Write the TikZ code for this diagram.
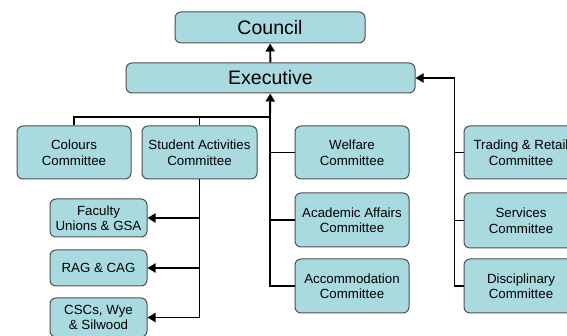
\documentclass[tikz,border=0pt]{standalone}
\usepackage{fontspec}
\setmainfont{Liberation Sans}
\usetikzlibrary{arrows.meta}

\definecolor{boxfill}{RGB}{168,218,224}
\definecolor{boxline}{RGB}{80,80,80}

\tikzset{
  unit/.style={draw=boxline,fill=boxfill,rounded corners=6pt,line width=1pt,
    align=center,inner sep=0pt,font=\fontsize{13.3}{15.5}\selectfont},
  topunit/.style={unit,font=\fontsize{19.5}{23}\selectfont},
  link/.style={line width=1.9pt},
  feed/.style={link,-{Triangle[length=8pt,width=9pt]}}
}

\begin{document}
\begin{tikzpicture}[x=1pt,y=-1pt]
                    \clip (0,0) rectangle (567,336);
                    \fill[white] (0,0) rectangle (567,336);

                    \node[topunit,minimum width=190pt,minimum height=31pt] at (270,27.5) (council) {Council};
                    \node[topunit,minimum width=289pt,minimum height=30pt] at (270.5,78) (exec) {Executive};

                    \node[unit,minimum width=114pt,minimum height=53pt] at (74,152.5) (colours) {Colours\\Committee};
                    \node[unit,minimum width=115pt,minimum height=53pt] at (199.5,152.5) (sac) {Student Activities\\Committee};
                    \node[unit,minimum width=97pt,minimum height=38pt] at (98.5,218) (faculty) {Faculty\\Unions \& GSA};
                    \node[unit,minimum width=97pt,minimum height=36pt] at (98.5,268) (rag) {RAG \& CAG};
                    \node[unit,minimum width=97pt,minimum height=39pt] at (98.5,317.5) (cscs) {CSCs, Wye\\\& Silwood};

                    \node[unit,minimum width=114pt,minimum height=53pt] at (352,152.5) (welfare) {Welfare\\Committee};
                    \node[unit,minimum width=114pt,minimum height=54pt] at (352,220) (academic) {Academic Affairs\\Committee};
                    \node[unit,minimum width=114pt,minimum height=54pt] at (352,286) (accom) {Accommodation\\Committee};

                    \node[unit,minimum width=114pt,minimum height=53pt] at (521,152.5) (trading) {Trading \& Retail\\Committee};
                    \node[unit,minimum width=114pt,minimum height=55pt] at (521,220.5) (services) {Services\\Committee};
                    \node[unit,minimum width=114pt,minimum height=54pt] at (521,286) (disc) {Disciplinary\\Committee};

                    \coordinate (hub) at (270,117);

                    \draw[feed] (exec) -- (council);
                    \draw[feed] (hub) -- (exec);
                    \draw[link] (colours.north) |- (hub);
                    \draw[link] (sac.north) |- (hub);
                    \draw[link] (hub) |- (welfare.west);
                    \draw[link] (hub) |- (academic.west);
                    \draw[link] (hub) |- (accom.west);

                    \draw[feed] (sac.south) |- (faculty.east);
                    \draw[feed] (sac.south) |- (rag.east);
                    \draw[feed] (sac.south) |- (cscs.east);

                    \draw[feed] (disc.west) -- ++(-9,0) |- (exec.east);
                    \draw[link] (trading.west) -- ++(-9,0);
                    \draw[link] (services.west) -- ++(-9,0);
                \end{tikzpicture}
\end{document}
